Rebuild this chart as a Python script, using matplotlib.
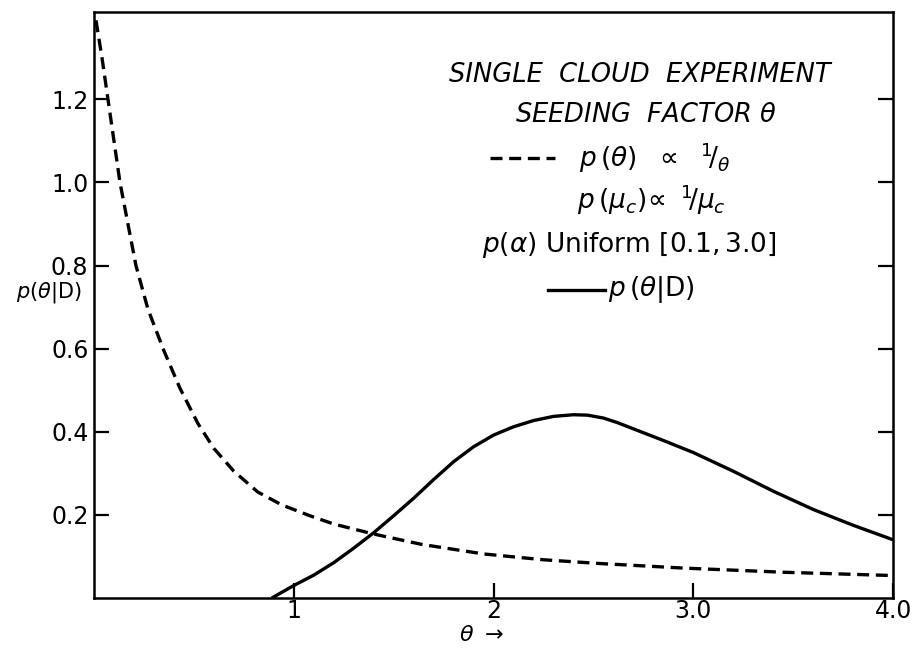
import matplotlib
matplotlib.use("Agg")
import matplotlib.pyplot as plt

plt.rcParams['font.family'] = ['DejaVu Sans']
plt.rcParams['mathtext.fontset'] = 'dejavusans'

# prior p(theta) ~ 1/theta (dashed)
prior_theta = [0.01, 0.04, 0.07, 0.10, 0.13, 0.17, 0.21, 0.27, 0.35, 0.43, 0.52, 0.60,
               0.70, 0.82, 0.94, 1.08, 1.20, 1.39, 1.64, 1.95, 2.25, 2.53, 2.95,
               3.45, 4.0]
prior_p = [1.39, 1.30, 1.20, 1.10, 1.00, 0.90, 0.80, 0.695, 0.595, 0.505, 0.42, 0.36,
           0.305, 0.255, 0.224, 0.198, 0.178, 0.155, 0.129, 0.106, 0.092, 0.083, 0.072,
           0.062, 0.054]

# posterior p(theta|D) (solid)
post_theta = [0.89, 1.00, 1.10, 1.20, 1.30, 1.40, 1.50, 1.60, 1.70, 1.80, 1.90, 2.00,
              2.10, 2.20, 2.30, 2.40, 2.47, 2.55, 2.62, 2.70, 2.85, 3.00, 3.20, 3.40,
              3.60, 3.80, 4.0]
post_p = [0.0, 0.03, 0.055, 0.085, 0.12, 0.157, 0.198, 0.24, 0.285, 0.328, 0.364, 0.392,
          0.412, 0.427, 0.437, 0.441, 0.440, 0.433, 0.422, 0.407, 0.379, 0.350, 0.305,
          0.257, 0.213, 0.175, 0.14]

xticks = [1, 2, 3, 4]
xticklabels = ["1", "2", "3.0", "4.0"]
yticks = [0.2, 0.4, 0.6, 0.8, 1.0, 1.2]
yticklabels = ["0.2", "0.4", "0.6", "0.8", "1.0", "1.2"]

fig = plt.figure(figsize=(9.17, 6.5), dpi=100)
ax = fig.add_axes([0.1025, 0.08, 0.974 - 0.1025, 0.9815 - 0.08])

dash = (0, (3.6, 2.0))
ax.plot(prior_theta, prior_p, color='black', lw=2.4, linestyle=dash)
ax.plot(post_theta, post_p, color='black', lw=2.4, solid_capstyle='butt')

ax.set_xlim(0, 4.0)
ax.set_ylim(0, 1.41)

for s in ax.spines.values():
    s.set_linewidth(1.8)

ax.set_xticks(xticks)
ax.set_xticklabels(xticklabels, fontsize=17)
ax.set_yticks(yticks)
ax.set_yticklabels(yticklabels, fontsize=17)
ax.tick_params(axis='x', direction='in', length=11, width=1.6, pad=1, top=False)
ax.tick_params(axis='y', direction='in', length=11, width=1.6, pad=4, right=True)

ax.text(-0.015, 0.735, r"$p(\theta|\mathrm{D})$", transform=ax.get_yaxis_transform(),
        ha='right', va='center', fontsize=15)
ax.text(0.485, -0.063, r"$\theta$ $\rightarrow$", transform=ax.transAxes,
        ha='center', va='center', fontsize=16)

tx = ax.transAxes
ax.text(0.683, 0.892, "SINGLE  CLOUD  EXPERIMENT", transform=tx,
        ha='center', va='center', fontsize=18.5, style='italic')
ax.text(0.69, 0.824, r"SEEDING  FACTOR $\theta$", transform=tx,
        ha='center', va='center', fontsize=18.5, style='italic')
ax.plot([0.495, 0.577], [0.751, 0.751], transform=tx, color='black', lw=2.4,
        linestyle=dash)
ax.text(0.607, 0.751, r"$p\,(\theta)\ \ \propto\ \ {}^{1}\!/_{\theta}$", transform=tx,
        ha='left', va='center', fontsize=19)
ax.text(0.605, 0.679, r"$p\,(\mu_c)\!\propto\ {}^{1}\!/\mu_c$", transform=tx,
        ha='left', va='center', fontsize=19)
ax.text(0.486, 0.602, r"$p(\alpha)$ Uniform $[0.1,3.0]$", transform=tx,
        ha='left', va='center', fontsize=19)
ax.plot([0.568, 0.640], [0.526, 0.526], transform=tx, color='black', lw=2.4)
ax.text(0.643, 0.526, r"$p\,(\theta|\mathrm{D})$", transform=tx,
        ha='left', va='center', fontsize=19)

fig.savefig("out.png", dpi=100)
